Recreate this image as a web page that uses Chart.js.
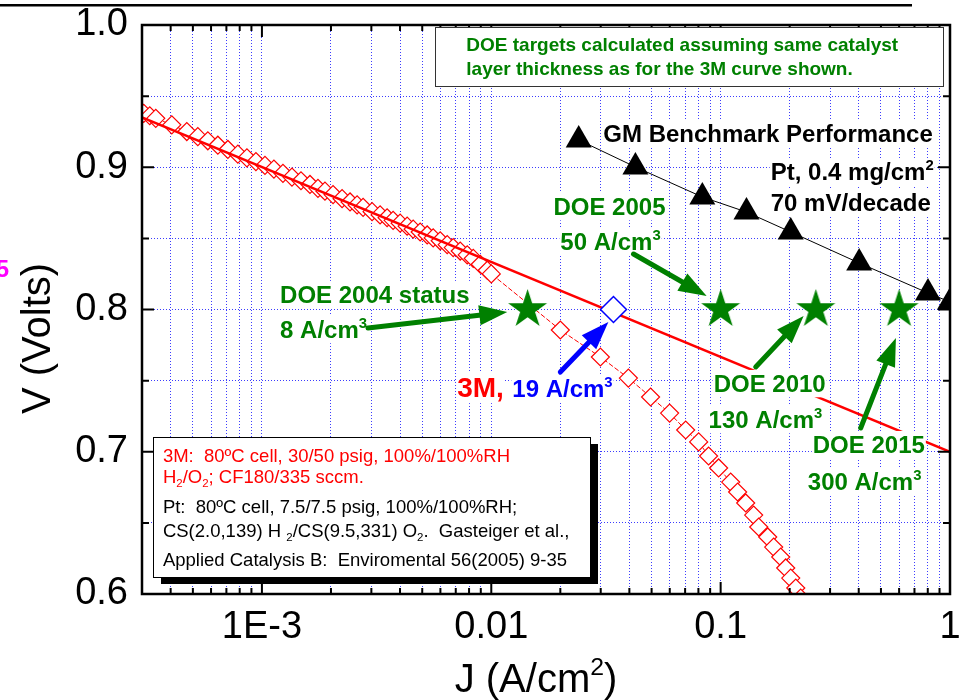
<!DOCTYPE html>
<html>
<head>
<meta charset="utf-8">
<title>3M vs DOE - curva de polarização</title>
<script src="https://cdn.jsdelivr.net/npm/chart.js@4.4.0/dist/chart.umd.min.js"></script>
<style>
    html, body { margin: 0; padding: 0; background: #fff; }
    #grafico { display: block; }
</style>
</head>
<body>
<canvas id="grafico" width="963" height="700"></canvas>
<script>
// ---------------- DADOS ----------------
// curva 3M (losangos vermelhos)
const J_3M = [3.053e-4, 3.243e-4, 3.444e-4, 4.046e-4, 4.704e-4, 5.254e-4, 5.810e-4, 6.424e-4, 7.104e-4, 7.855e-4,
    8.601e-4, 9.415e-4, 1.031e-3, 1.128e-3, 1.235e-3, 1.352e-3, 1.480e-3, 1.620e-3, 1.755e-3, 1.883e-3,
    2.042e-3, 2.236e-3, 2.422e-3, 2.600e-3, 2.761e-3, 3.022e-3, 3.275e-3, 3.514e-3, 3.732e-3, 4.005e-3,
    4.297e-3, 4.564e-3, 4.897e-3, 5.254e-3, 5.580e-3, 5.987e-3, 6.424e-3, 6.823e-3, 7.320e-3, 7.855e-3,
    8.344e-3, 8.954e-3, 9.606e-3, 0.0100, 0.0200, 0.0299, 0.0396, 0.0495, 0.0599, 0.0704,
    0.0802, 0.0886, 0.0980, 0.1106, 0.1186, 0.1286, 0.1393, 0.1466, 0.1604, 0.1703,
    0.1828, 0.1922, 0.2021, 0.2126, 0.2234]
const V_3M = [0.9379, 0.9362, 0.9344, 0.9298, 0.9251, 0.9215, 0.9186, 0.9155, 0.9125, 0.9092,
    0.9066, 0.9040, 0.9013, 0.8987, 0.8957, 0.8931, 0.8905, 0.8879, 0.8852, 0.8832,
    0.8808, 0.8779, 0.8756, 0.8735, 0.8718, 0.8688, 0.8665, 0.8645, 0.8627, 0.8607,
    0.8586, 0.8565, 0.8545, 0.8524, 0.8503, 0.8483, 0.8456, 0.8435, 0.8411, 0.8384,
    0.8359, 0.8318, 0.8276, 0.8250, 0.7856, 0.7666, 0.7518, 0.7385, 0.7272, 0.7153,
    0.7069, 0.6970, 0.6886, 0.6787, 0.6717, 0.6640, 0.6555, 0.6471, 0.6401, 0.6330,
    0.6260, 0.6183, 0.6112, 0.6042, 0.5972]

// reta de Tafel do 3M
const J_TAFEL = [3e-4, 1]
const V_TAFEL = [0.935, 0.700]

// GM benchmark (triangulos pretos)
const J_GM = [0.02405, 0.0425, 0.0832, 0.1296, 0.2021, 0.4018, 0.8017, 1.0]
const V_GM = [0.9192, 0.9002, 0.8791, 0.8685, 0.8545, 0.8327, 0.8116, 0.8053]

// metas DOE (estrelas verdes)
const J_DOE = [0.0144, 0.1, 0.26, 0.6]
const V_DOE = [0.80, 0.80, 0.80, 0.80]

// 3M a 0.8 V (losango azul)
const J_3M_08 = [0.0341]
const V_3M_08 = [0.80]

// eixos
const J_MIN = 3e-4
const J_MAX = 1
const V_MIN = 0.6
const V_MAX = 1.0
const X_TICK_VALUES = [1e-3, 0.01, 0.1, 1]
const X_TICK_LABELS = ['1E-3', '0.01', '0.1', '1']
const Y_TICK_VALUES = [0.6, 0.7, 0.8, 0.9, 1.0]
const Y_TICK_LABELS = ['0.6', '0.7', '0.8', '0.9', '1.0']

// ---------------- ESTILO ----------------
const FONTE = '"Liberation Sans", Arial, Helvetica, sans-serif'
const VERDE = '#008000'
const VERMELHO = '#ff0000'
const AZUL = '#0000ff'
const GRADE = '#3c3cff'

Chart.defaults.font.family = FONTE
Chart.defaults.color = '#000'

// textos e setas, posicionados em coordenadas (J, V)
const ROTULOS = [
    { txt: 'DOE 2004 status', j: 0.0012, v: 0.8046, tam: 24, cor: VERDE },
    { txt: '8 A/cm^3', j: 0.0012, v: 0.7800, tam: 24, cor: VERDE },
    { txt: 'DOE 2005', j: 0.01866, v: 0.8664, tam: 24, cor: VERDE },
    { txt: '50 A/cm^3', j: 0.0200, v: 0.8418, tam: 24, cor: VERDE },
    { txt: 'GM Benchmark Performance', j: 0.0308, v: 0.9178, tam: 24, cor: '#000' },
    { txt: 'Pt, 0.4 mg/cm^2', j: 0.1653, v: 0.8910, tam: 24, cor: '#000' },
    { txt: '70 mV/decade', j: 0.1653, v: 0.8692, tam: 24, cor: '#000' },
    { txt: 'DOE 2010', j: 0.0932, v: 0.7420, tam: 24, cor: VERDE },
    { txt: '130 A/cm^3', j: 0.0886, v: 0.7167, tam: 24, cor: VERDE },
    { txt: 'DOE 2015', j: 0.2522, v: 0.6991, tam: 24, cor: VERDE },
    { txt: '300 A/cm^3', j: 0.2399, v: 0.6731, tam: 24, cor: VERDE },
    { txt: '3M,', j: 0.0071, v: 0.7385, tam: 28, cor: VERMELHO },
    { txt: '19 A/cm^3', j: 0.01235, v: 0.7385, tam: 24, cor: AZUL }
]

const SETAS = [
    { de: [0.0029, 0.787], para: [0.01174, 0.7982], cor: VERDE },
    { de: [0.0417, 0.839], para: [0.0869, 0.8095], cor: VERDE },
    { de: [0.1422, 0.7596], para: [0.230, 0.7954], cor: VERDE },
    { de: [0.408, 0.7167], para: [0.581, 0.780], cor: VERDE },
    { de: [0.020, 0.756], para: [0.0324, 0.7912], cor: AZUL }
]

const CAIXA_DOE = {
    j1: 0.0057, j2: 0.932, v1: 0.9986, v2: 0.957,
    jTxt: 0.00778, tam: 19,
    linhas: [
        ['DOE targets calculated assuming same catalyst', 0.9817],
        ['layer thickness as for the 3M curve shown.', 0.9649]
    ]
}

const LEGENDA = {
    j1: 3.34e-4, j2: 0.0268, v1: 0.7104, v2: 0.612,
    jTxt: 3.70e-4, tam: 18.5,
    linhas: [
        ['3M:  80ºC cell, 30/50 psig, 100%/100%RH', 0.6928, VERMELHO],
        ['H_2/O_2; CF180/335 sccm.', 0.6780, VERMELHO],
        ['Pt:  80ºC cell, 7.5/7.5 psig, 100%/100%RH;', 0.6570, '#000'],
        ['CS(2.0,139) H _2/CS(9.5,331) O_2.  Gasteiger et al.,', 0.6400, '#000'],
        ['Applied Catalysis B:  Enviromental 56(2005) 9-35', 0.6197, '#000']
    ]
}

// ---------------- FUNÇÕES ----------------
function pontos(xs, ys) {
    return xs.map((x, i) => ({ x: x, y: ys[i] }))
}

// estrela cheia de 5 pontas para usar como pointStyle
function estrela(r, cor) {
    let c = document.createElement('canvas')
    let s = Math.ceil(r * 2 + 2)
    c.width = s
    c.height = s
    let g = c.getContext('2d')
    g.translate(s / 2, s / 2)
    g.beginPath()
    for (let i = 0; i < 10; i++) {
        let rr = i % 2 ? r * 0.382 : r
        let a = -Math.PI / 2 + i * Math.PI / 5
        g.lineTo(Math.cos(a) * rr, Math.sin(a) * rr)
    }
    g.closePath()
    g.fillStyle = cor
    g.fill()
    return c
}

// quebra o texto em partes: ^c = sobrescrito, _c = subscrito
function partesTexto(str) {
    let partes = []
    for (let i = 0; i < str.length; i++) {
        let ch = str[i]
        if ((ch === '^' || ch === '_') && i + 1 < str.length) {
            partes.push({ t: str[i + 1], k: ch })
            i++
        } else if (partes.length && partes[partes.length - 1].k === '') {
            partes[partes.length - 1].t += ch
        } else {
            partes.push({ t: ch, k: '' })
        }
    }
    return partes
}

function medirTexto(ctx, str, tam, peso) {
    let w = 0
    partesTexto(str).forEach((p) => {
        ctx.font = `${peso} ${p.k ? tam * 0.62 : tam}px ${FONTE}`
        w += ctx.measureText(p.t).width
    })
    return w
}

function textoRico(ctx, str, x, y, tam, peso, cor, fundo) {
    let partes = partesTexto(str)
    let w = medirTexto(ctx, str, tam, peso)
    if (fundo) {
        ctx.fillStyle = '#fff'
        ctx.fillRect(x - 1, y - tam * 0.92, w + 2, tam * 1.14)
    }
    ctx.fillStyle = cor
    ctx.textAlign = 'left'
    ctx.textBaseline = 'alphabetic'
    let cx = x
    partes.forEach((p) => {
        let t = p.k ? tam * 0.62 : tam
        ctx.font = `${peso} ${t}px ${FONTE}`
        let dy = p.k === '^' ? -tam * 0.42 : (p.k === '_' ? tam * 0.22 : 0)
        ctx.fillText(p.t, cx, y + dy)
        cx += ctx.measureText(p.t).width
    })
    return w
}

function seta(ctx, x1, y1, x2, y2, cor) {
    let ang = Math.atan2(y2 - y1, x2 - x1)
    let L = 28, H = 10
    let bx = x2 - Math.cos(ang) * L
    let by = y2 - Math.sin(ang) * L
    ctx.strokeStyle = cor
    ctx.fillStyle = cor
    ctx.lineWidth = 5
    ctx.lineCap = 'round'
    ctx.beginPath()
    ctx.moveTo(x1, y1)
    ctx.lineTo(bx + Math.cos(ang) * 4, by + Math.sin(ang) * 4)
    ctx.stroke()
    ctx.beginPath()
    ctx.moveTo(x2, y2)
    ctx.lineTo(bx - Math.sin(ang) * H, by + Math.cos(ang) * H)
    ctx.lineTo(bx + Math.sin(ang) * H, by - Math.cos(ang) * H)
    ctx.closePath()
    ctx.fill()
}

function ehMarcado(lista, v, log) {
    return lista.findIndex((t) => log ? Math.abs(Math.log10(t) - Math.log10(v)) < 1e-6 : Math.abs(t - v) < 1e-6)
}

// ---------------- PLUGINS ----------------
// moldura do gráfico com marcas para dentro nos 4 lados + rótulos do eixo x
const moldura = {
    id: 'moldura',
    afterDatasetsDraw(chart) {
        let { ctx, chartArea: a, scales } = chart
        let sx = scales.x, sy = scales.y
        ctx.save()
        ctx.strokeStyle = '#000'
        ctx.lineWidth = 2
        ctx.beginPath()
        sx.ticks.forEach((t) => {
            let px = sx.getPixelForValue(t.value)
            let len = ehMarcado(X_TICK_VALUES, t.value, true) >= 0 ? 12 : 6
            ctx.moveTo(px, a.bottom); ctx.lineTo(px, a.bottom - len)
            ctx.moveTo(px, a.top); ctx.lineTo(px, a.top + len)
        })
        sy.ticks.forEach((t) => {
            let py = sy.getPixelForValue(t.value)
            let len = ehMarcado(Y_TICK_VALUES, t.value, false) >= 0 ? 12 : 7
            ctx.moveTo(a.left, py); ctx.lineTo(a.left + len, py)
            ctx.moveTo(a.right, py); ctx.lineTo(a.right - len, py)
        })
        ctx.stroke()
        ctx.lineWidth = 2.5
        ctx.strokeRect(a.left, a.top, a.right - a.left, a.bottom - a.top)

        // rótulos do eixo x (desenhados aqui para não roubar espaço da área do gráfico)
        ctx.font = `38px ${FONTE}`
        ctx.fillStyle = '#000'
        ctx.textAlign = 'center'
        ctx.textBaseline = 'alphabetic'
        X_TICK_VALUES.forEach((v, i) => {
            ctx.fillText(X_TICK_LABELS[i], sx.getPixelForValue(v), a.bottom + 44)
        })
        ctx.restore()
    }
}

// caixas de texto, rótulos, setas e títulos dos eixos
const anotacoes = {
    id: 'anotacoes',
    afterDraw(chart) {
        let { ctx, chartArea: a, scales } = chart
        let X = (j) => scales.x.getPixelForValue(j)
        let Y = (v) => scales.y.getPixelForValue(v)
        ctx.save()

        // caixa das metas DOE
        let c = CAIXA_DOE
        ctx.fillStyle = '#fff'
        ctx.fillRect(X(c.j1), Y(c.v1), X(c.j2) - X(c.j1), Y(c.v2) - Y(c.v1))
        ctx.strokeStyle = '#333'
        ctx.lineWidth = 1
        ctx.strokeRect(Math.round(X(c.j1)) + 0.5, Math.round(Y(c.v1)) + 0.5, Math.round(X(c.j2) - X(c.j1)), Math.round(Y(c.v2) - Y(c.v1)))
        c.linhas.forEach(([txt, v]) => textoRico(ctx, txt, X(c.jTxt), Y(v), c.tam, 'bold', VERDE, false))

        // legenda com sombra
        let l = LEGENDA
        let lx = Math.round(X(l.j1)), ly = Math.round(Y(l.v1))
        let lw = Math.round(X(l.j2) - X(l.j1)), lh = Math.round(Y(l.v2) - Y(l.v1))
        ctx.fillStyle = '#000'
        ctx.fillRect(lx + 8, ly + 7, lw, lh)
        ctx.fillStyle = '#fff'
        ctx.fillRect(lx, ly, lw, lh)
        ctx.strokeStyle = '#000'
        ctx.lineWidth = 1
        ctx.strokeRect(lx + 0.5, ly + 0.5, lw, lh)
        l.linhas.forEach(([txt, v, cor]) => textoRico(ctx, txt, X(l.jTxt), Y(v), l.tam, 'normal', cor, false))

        // rótulos com fundo branco
        ROTULOS.forEach((r) => textoRico(ctx, r.txt, X(r.j), Y(r.v), r.tam, 'bold', r.cor, true))

        // setas
        SETAS.forEach((s) => seta(ctx, X(s.de[0]), Y(s.de[1]), X(s.para[0]), Y(s.para[1]), s.cor))

        // títulos dos eixos
        ctx.save()
        ctx.translate(a.left - 92, (a.top + a.bottom) / 2 + 29)
        ctx.rotate(-Math.PI / 2)
        ctx.font = `40px ${FONTE}`
        ctx.fillStyle = '#000'
        ctx.textAlign = 'center'
        ctx.textBaseline = 'alphabetic'
        ctx.fillText('V (Volts)', 0, 0)
        ctx.restore()

        let tx = 'J (A/cm^2)'
        let w = medirTexto(ctx, tx, 40, 'normal')
        textoRico(ctx, tx, (a.left + a.right) / 2 - 10 - w / 2, a.bottom + 98, 40, 'normal', '#000', false)

        // linha preta no topo e o "5" cortado na margem
        ctx.fillStyle = '#000'
        ctx.fillRect(0, 4, 912, 2.5)
        ctx.font = `bold 24px ${FONTE}`
        ctx.fillStyle = '#ff00ff'
        ctx.textAlign = 'right'
        ctx.fillText('5', 9, 277)

        ctx.restore()
    }
}

// ---------------- GRÁFICO ----------------
function MostrarGrafico() {
    let ctx1 = document.getElementById('grafico')

    new Chart(ctx1, {
        type: 'line',
        data: {
            datasets: [{
                label: '3M',
                data: pontos(J_3M, V_3M),
                borderColor: VERMELHO,
                borderWidth: 1,
                borderDash: [5, 2],
                pointStyle: 'rectRot',
                pointRadius: 9,
                pointBorderWidth: 1.2,
                pointBorderColor: VERMELHO,
                pointBackgroundColor: '#fff',
                clip: 0,
                order: 5
            },
            {
                label: 'GM Benchmark',
                data: pontos(J_GM, V_GM),
                borderColor: '#000',
                borderWidth: 1,
                pointStyle: 'triangle',
                pointRadius: 15,
                pointBorderWidth: 0,
                pointBackgroundColor: '#000',
                clip: 0,
                order: 4
            },
            {
                label: 'Tafel 3M',
                data: pontos(J_TAFEL, V_TAFEL),
                borderColor: VERMELHO,
                borderWidth: 2.5,
                pointRadius: 0,
                clip: 0,
                order: 3
            },
            {
                label: 'DOE',
                data: pontos(J_DOE, V_DOE),
                showLine: false,
                pointStyle: estrela(20.5, VERDE),
                pointRadius: 20,
                clip: 0,
                order: 2
            },
            {
                label: '3M 0.8 V',
                data: pontos(J_3M_08, V_3M_08),
                showLine: false,
                pointStyle: 'rectRot',
                pointRadius: 13,
                pointBorderWidth: 1.5,
                pointBorderColor: AZUL,
                pointBackgroundColor: '#fff',
                clip: 0,
                order: 1
            }]
        },
        options: {
            responsive: false,
            animation: false,
            // sem folga automática para os marcadores grandes
            layout: { autoPadding: false, padding: { left: 0, top: 25, right: 13, bottom: 0 } },
            elements: { line: { tension: 0 } },
            plugins: {
                legend: { display: false },
                tooltip: { enabled: false }
            },
            scales: {
                x: {
                    type: 'logarithmic',
                    min: J_MIN,
                    max: J_MAX,
                    afterBuildTicks: (scale) => {
                        let t = []
                        for (let e = -4; e <= 0; e++) {
                            for (let m = 1; m <= 9; m++) {
                                let v = +(m * Math.pow(10, e)).toPrecision(6)
                                if (v >= J_MIN - 1e-12 && v <= J_MAX + 1e-12) t.push({ value: v })
                            }
                        }
                        scale.ticks = t
                    },
                    afterFit: (scale) => {
                        scale.height = 106
                    },
                    ticks: { display: false },
                    grid: { color: GRADE, lineWidth: 1, drawTicks: false },
                    border: { display: false, dash: [1, 2] }
                },
                y: {
                    min: V_MIN,
                    max: V_MAX,
                    afterBuildTicks: (scale) => {
                        let t = []
                        for (let k = 0; k <= 8; k++) t.push({ value: Math.round((V_MIN + 0.05 * k) * 100) / 100 })
                        scale.ticks = t
                    },
                    afterFit: (scale) => {
                        scale.width = 142
                        scale.paddingTop = 0
                        scale.paddingBottom = 0
                    },
                    ticks: {
                        autoSkip: false,
                        padding: 14,
                        font: { size: 38 },
                        color: '#000',
                        callback: (v) => {
                            let i = ehMarcado(Y_TICK_VALUES, v, false)
                            return i >= 0 ? Y_TICK_LABELS[i] : ''
                        }
                    },
                    grid: { color: GRADE, lineWidth: 1, drawTicks: false },
                    border: { display: false, dash: [1, 2] }
                }
            }
        },
        plugins: [moldura, anotacoes]
    })
}

window.addEventListener('load', () => {
    MostrarGrafico()
})
</script>
</body>
</html>
